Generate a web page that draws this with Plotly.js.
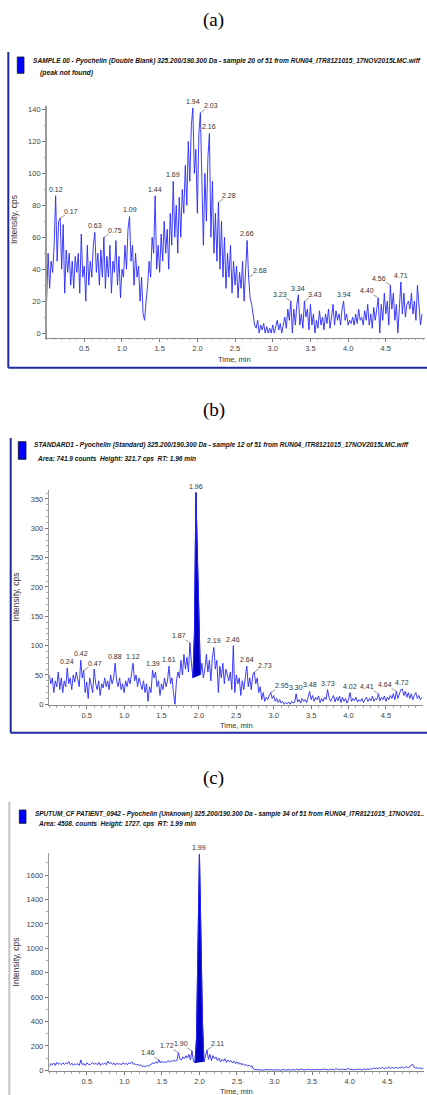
<!DOCTYPE html>
<html><head><meta charset="utf-8">
<script src="https://cdn.plot.ly/plotly-3.0.1.min.js"></script>
<style>html,body{margin:0;padding:0;background:#fff;}#chart{width:427px;height:1095px;}</style>
</head><body><div id="chart"></div>
<script>
// ---------- DATA ----------
const timeStart = 0.0, timeStep = 0.02; // instrument sampling grid, min

// (a) Double blank, intensity cps, every 0.02 min from 0.00
const intensityA = [
 20,50,28,45,38,55,86,45,70,72,
 40,68,25,52,38,50,30,45,28,48,
 38,50,25,62,35,42,20,55,30,45,
 35,55,63,38,50,30,52,35,60,28,
 48,35,55,25,45,38,58,30,48,22,
 40,35,55,40,65,73,45,55,30,50,
 35,42,20,35,12,8,20,30,45,35,
 60,50,86,40,55,38,62,45,70,50,
 65,40,75,55,95,60,80,50,85,60,
 90,75,105,80,120,95,130,141,100,115,
 75,125,138,85,55,100,70,110,125,60,
 95,50,75,45,82,40,70,35,60,28,
 50,35,55,25,45,30,42,22,38,28,
 45,20,40,58,35,22,18,10,5,3,
 8,0,5,2,6,0,4,0,3,0,
 5,0,4,8,2,6,0,5,10,3,
 15,8,20,0,15,5,18,24,5,12,
 3,20,10,15,2,18,5,12,0,8,
 3,14,5,10,2,12,6,15,3,10,
 18,5,14,8,12,5,15,20,8,12,
 5,8,6,10,5,12,6,15,8,10,
 5,14,8,18,5,12,3,16,8,15,
 22,0,18,8,25,12,20,5,30,15,
 25,8,18,0,20,32,12,25,10,18,
 20,15,25,12,20,8,30,15,5,12
];
// (b) Standard
const intensityB = [
 50,35,45,20,40,30,55,25,45,20,
 40,30,62,35,45,25,50,38,55,40,
 30,75,45,58,20,38,10,45,30,20,
 60,35,25,40,15,35,28,45,30,40,
 25,50,35,45,70,40,30,45,25,35,
 20,40,30,45,35,55,70,40,50,30,
 45,35,25,40,20,35,5,30,20,58,
 45,55,30,40,15,35,25,45,30,40,
 65,35,45,20,0,40,55,45,75,50,
 85,60,80,55,105,70,45,120,361,250,
 140,50,70,45,60,85,55,75,40,80,
 97,60,75,20,65,45,70,35,60,50,
 40,55,25,100,20,50,35,45,15,40,
 25,45,65,30,45,25,50,55,35,45,
 20,30,8,20,5,12,8,15,20,10,
 15,5,10,3,8,2,5,0,3,1,
 4,0,5,2,3,18,4,8,2,10,
 5,8,3,12,22,8,15,5,12,8,
 14,3,10,5,12,8,25,12,5,10,
 15,4,12,6,14,3,12,5,10,2,
 8,20,5,10,6,12,4,8,5,10,
 3,8,12,5,10,6,14,5,10,8,
 18,6,12,8,14,5,12,8,15,10,
 18,8,22,10,18,25,26,15,22,12,
 20,10,18,8,15,20,10,15,8,12
];
// (c) Sputum CF patient
const intensityC = [
 30,55,45,60,40,65,50,58,45,62,
 48,60,55,70,45,58,40,52,48,55,
 40,85,45,55,38,60,50,45,55,62,
 48,58,45,65,40,55,50,60,45,75,
 55,65,48,60,42,58,50,55,45,62,
 50,58,45,62,55,70,48,55,42,50,
 38,45,30,35,28,40,35,45,50,60,
 55,70,58,85,60,75,62,70,65,80,
 68,78,72,85,75,80,145,90,85,110,
 95,120,100,130,85,160,75,60,250,1000,
 1770,1100,400,70,110,166,90,130,80,120,
 95,110,80,100,70,90,75,95,65,85,
 70,80,60,75,55,70,50,62,45,55,
 40,48,35,42,30,38,10,5,3,8,
 2,6,0,5,3,8,2,4,6,1,
 5,2,7,3,0,4,8,2,5,3,
 6,1,8,4,2,10,3,6,12,4,
 2,7,5,10,3,8,2,6,4,9,
 3,8,5,12,4,7,2,10,5,8,
 3,15,6,9,4,12,5,8,3,18,
 6,10,4,8,3,12,5,9,4,7,
 10,5,12,6,15,8,20,12,18,10,
 22,15,25,12,20,18,28,15,22,20,
 18,25,15,22,20,28,18,24,30,20,
 28,35,50,25,18,22,15,20,12,18
];

// peak labels (retention times, min)
const peakLabelsA = ['0.12','0.17','0.63','0.75','1.09','1.44','1.69','1.94','2.03','2.16','2.28','2.66','2.68','3.23','3.34','3.43','3.94','4.40','4.56','4.71'];
const peakLabelsB = ['0.24','0.42','0.47','0.88','1.12','1.39','1.61','1.87','1.96','2.19','2.46','2.64','2.73','2.95','3.30','3.48','3.73','4.02','4.41','4.64','4.72'];
const peakLabelsC = ['1.46','1.72','1.90','1.99','2.11'];
// integrated peak bounds (min)
const integratedB = [1.92, 2.02];
const integratedC = [1.94, 2.06];

const xTickVals = [0.5,1.0,1.5,2.0,2.5,3.0,3.5,4.0,4.5];
const xTickText = ['0.5','1.0','1.5','2.0','2.5','3.0','3.5','4.0','4.5'];
const yTicksA = [0,20,40,60,80,100,120,140];
const yTicksB = [0,50,100,150,200,250,300,350];
const yTicksC = [0,200,400,600,800,1000,1200,1400,1600];

const titlesA = ['SAMPLE 00 - Pyochelin (Double Blank) 325.200/190.300 Da - sample 20 of 51 from RUN04_ITR8121015_17NOV2015LMC.wiff','(peak not found)'];
const titlesB = ['STANDARD1 - Pyochelin (Standard) 325.200/190.300 Da - sample 12 of 51 from RUN04_ITR8121015_17NOV2015LMC.wiff','Area: 741.9 counts \u00a0Height: 321.7 cps \u00a0RT: 1.96 min'];
const titlesC = ['SPUTUM_CF PATIENT_0942 - Pyochelin (Unknown) 325.200/190.300 Da - sample 34 of 51 from RUN04_ITR8121015_17NOV201..','Area: 4508. counts \u00a0Height: 1727. cps \u00a0RT: 1.99 min'];
const panelLetters = ['(a)','(b)','(c)'];
const xTitle = 'Time, min', yTitle = 'Intensity, cps';

// ---------- STYLE / LAYOUT ----------
const W = 427, H = 1095;
const px = v => v / W, py = v => 1 - v / H;
const SANS = '"Liberation Sans",Arial,Helvetica,sans-serif';
const SERIF = '"Liberation Serif","Times New Roman",serif';
const LINE = 'rgb(40,40,255)';
const FILL = '#0000c4';

const times = intensityA.map((_, i) => +(timeStart + i * timeStep).toFixed(2));

// leader-line side for labels (style)
const leaders = [
  {'0.17':'r','0.75':'r','2.03':'r','2.28':'r','2.68':'r','3.23':'l','3.43':'r','4.40':'l','4.56':'l'},
  {'0.47':'r','1.87':'l','2.73':'r','2.95':'r','4.41':'l','4.64':'l'},
  {'1.46':'l','1.72':'l','1.90':'l','2.11':'r'}
];

const panels = [
  {y:intensityA, labels:peakLabelsA, titles:titlesA, xd:[46.6,425], yd:[337.7,106], xr:[0,5.02], yr:[-2.9,142.2], yt:yTicksA, ym:10,
   titleY:[61,73.3], titleX:[31,37.5], titleW:[387,53], sq:[17.3,57,24,73.3], frame:{x:8.3, top:52, bottom:367.8, color:'#1f2a9e'}, letterY:20,
   yTitle:[14,220], xTitle:[235,359.3]},
  {y:intensityB, labels:peakLabelsB, titles:titlesB, xd:[49.3,423], yd:[705.3,490], xr:[0,4.996], yr:[-1.7,365.3], yt:yTicksB, ym:10, integ:integratedB,
   titleY:[445.3,459], titleX:[32.3,35], titleW:[374,158], sq:[18.3,441.7,26,459.3], frame:{x:10.7, top:438, bottom:732.7, color:'#1f2a9e'}, letterY:410,
   yTitle:[15.7,596.7], xTitle:[236.7,725.7]},
  {y:intensityC, labels:peakLabelsC, titles:titlesC, xd:[49.3,424], yd:[1071,853], xr:[0,4.991], yr:[-5.7,1781], yt:yTicksC, ym:100, integ:integratedC,
   titleY:[814,823.5], titleX:[33.3,36], titleW:[389,157], sq:[19.3,810,26,823.3], frame:{x:9.3, top:802, bottom:null, color:'#c4c4c4'}, letterY:778,
   yTitle:[15.7,961.7], xTitle:[236.7,1091.7]}
];

const idxOf = t => Math.round((t - timeStart) / timeStep);
function peakIndex(y, t) {
  const r = (t - timeStart) / timeStep;
  if (Math.abs(r - Math.round(r)) < 1e-6) return Math.round(r);
  const f = Math.floor(r), c = Math.ceil(r);
  return y[f] >= y[c] ? f : c;
}

const data = [], annotations = [], shapes = [], fitWidth = [];
const layout = {
  width: W, height: H, margin: {l:0, r:0, t:0, b:0}, paper_bgcolor:'#fff', plot_bgcolor:'rgba(0,0,0,0)',
  showlegend:false, font:{family:SANS, size:7.5, color:'#333'}
};
const tickFont = {family:SANS, size:7.5, color:'#444'};
function addAnn(a, w) { annotations.push(a); fitWidth.push(w || 0); }

panels.forEach((p, k) => {
  const n = k === 0 ? '' : String(k + 1);
  const xa = 'x' + n, ya = 'y' + n;
  layout['xaxis' + n] = {
    domain:[px(p.xd[0]), px(p.xd[1])], range:p.xr, anchor:ya, tickvals:xTickVals, ticktext:xTickText,
    ticks:'outside', ticklen:3, tickcolor:'#777', tickwidth:1, showline:true, linecolor:'#8a8a8a', linewidth:1,
    showgrid:false, zeroline:false, tickfont:tickFont, fixedrange:true,
    minor:{ticks:'outside', ticklen:1.5, dtick:0.1, tick0:0, tickcolor:'#aaa', showgrid:false}
  };
  layout['yaxis' + n] = {
    domain:[py(p.yd[0]), py(p.yd[1])], range:p.yr, anchor:xa, tickvals:p.yt,
    ticks:'outside', ticklen:3, tickcolor:'#777', tickwidth:1, showline:true, linecolor:'#9a9a9a', linewidth:1.5,
    showgrid:false, zeroline:false, tickfont:tickFont, fixedrange:true,
    minor:{ticks:'outside', ticklen:1.5, dtick:p.ym, tick0:0, tickcolor:'#aaa', showgrid:false}
  };
  if (p.integ) {
    const i0 = idxOf(p.integ[0]), i1 = idxOf(p.integ[1]);
    data.push({x:times.slice(i0, i1 + 1), y:p.y.slice(i0, i1 + 1), xaxis:xa, yaxis:ya, mode:'lines',
      fill:'toself', fillcolor:FILL, line:{color:FILL, width:1}, hoverinfo:'skip'});
  }
  data.push({x:times, y:p.y, xaxis:xa, yaxis:ya, mode:'lines', line:{color:LINE, width:0.9}, hoverinfo:'skip'});

  p.labels.forEach(lbl => {
    const i = peakIndex(p.y, parseFloat(lbl));
    const side = leaders[k][lbl];
    const base = {x:times[i], y:p.y[i], xref:xa, yref:ya, text:lbl, font:{family:SANS, size:7, color:'#333'}};
    if (side) addAnn(Object.assign(base, {showarrow:true, arrowhead:0, arrowwidth:0.6, arrowcolor:'#555',
      ax: side === 'r' ? 11 : -11, ay:-7, standoff:0, borderpad:0}));
    else addAnn(Object.assign(base, {showarrow:false, yanchor:'bottom', yshift:1}));
  });

  // titles (two lines)
  [0, 1].forEach(j => addAnn({xref:'paper', yref:'paper', x:px(p.titleX[j]), y:py(p.titleY[j]), xanchor:'left', yanchor:'middle', align:'left',
    text:p.titles[j], showarrow:false, font:{family:SANS, size:6.5, color:'#111', weight:'bold', style:'italic'}}, p.titleW[j]));
  // panel letter
  addAnn({xref:'paper', yref:'paper', x:px(213.5), y:py(p.letterY), xanchor:'center', yanchor:'middle',
    text:panelLetters[k], showarrow:false, font:{family:SERIF, size:19, color:'#000'}});
  // axis titles
  addAnn({xref:'paper', yref:'paper', x:px(p.yTitle[0]), y:py(p.yTitle[1]), xanchor:'center', yanchor:'middle',
    text:yTitle, textangle:-90, showarrow:false, font:{family:SANS, size:8.5, color:'#333'}});
  addAnn({xref:'paper', yref:'paper', x:px(p.xTitle[0]), y:py(p.xTitle[1]), xanchor:'center', yanchor:'middle',
    text:xTitle, showarrow:false, font:{family:SANS, size:7.5, color:'#333'}});
  // legend square
  shapes.push({type:'rect', xref:'paper', yref:'paper', x0:px(p.sq[0]), x1:px(p.sq[2]), y0:py(p.sq[1]), y1:py(p.sq[3]),
    fillcolor:'#0000ff', line:{color:'#111', width:0.8}});
  // frame
  const f = p.frame;
  shapes.push({type:'line', xref:'paper', yref:'paper', x0:px(f.x), x1:px(f.x), y0:py(f.top), y1:py(f.bottom === null ? H : f.bottom),
    line:{color:f.color, width:2}});
  if (f.bottom !== null) shapes.push({type:'line', xref:'paper', yref:'paper', x0:px(f.x), x1:1, y0:py(f.bottom), y1:py(f.bottom),
    line:{color:f.color, width:2}});
});
layout.annotations = annotations;
layout.shapes = shapes;
Plotly.newPlot('chart', data, layout, {displayModeBar:false, staticPlot:true}).then(gd => {
  // fine-fit the header texts to the width they occupy in the original screenshot
  gd.querySelectorAll('g.annotation').forEach(g => {
    const i = +g.getAttribute('data-index');
    const w = fitWidth[i];
    if (!w) return;
    const t = g.querySelector('text.annotation-text');
    if (t) { t.setAttribute('textLength', w); t.setAttribute('lengthAdjust', 'spacingAndGlyphs'); }
  });
});
</script></body></html>
